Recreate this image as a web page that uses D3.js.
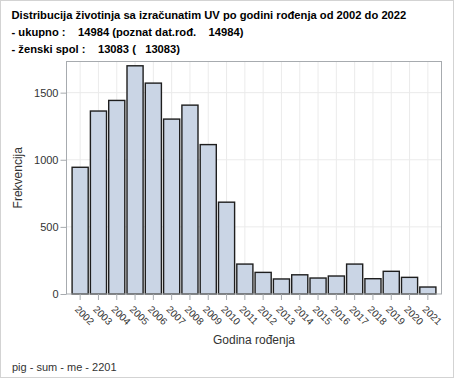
<!DOCTYPE html>
<html>
<head>
<meta charset="utf-8">
<script src="https://cdn.jsdelivr.net/npm/d3@7"></script>
<style>
  body { margin: 0; background: #fff; }
  svg { display: block; font-family: Arial, "Liberation Sans", sans-serif; }
  .title { font-weight: bold; font-size: 11.2px; white-space: pre; fill: #000; }
</style>
</head>
<body>
<div id="chart"></div>
<script>
// year of birth categories
var years = ["2002", "2003", "2004", "2005", "2006", "2007", "2008", "2009", "2010", "2011",
             "2012", "2013", "2014", "2015", "2016", "2017", "2018", "2019", "2020", "2021"];
// frequency per year
var counts = [944, 1363, 1442, 1700, 1571, 1303, 1407, 1113, 684, 223,
              161, 112, 143, 119, 134, 223, 114, 169, 124, 52];
var yTicks = [0, 500, 1000, 1500];
var titleLines = [
  "Distribucija životinja sa izračunatim UV po godini rođenja od 2002 do 2022",
  "- ukupno :    14984 (poznat dat.rođ.    14984)",
  "- ženski spol :    13083 (   13083)"
];
var footer = "pig - sum - me - 2201";

var width = 454, height = 378;
var plot = {left: 66.5, right: 441.5, top: 61.5, bottom: 294};

var svg = d3.select("#chart").append("svg")
    .attr("width", width)
    .attr("height", height);

// outer border
svg.append("rect")
    .attr("x", 0.5).attr("y", 0.5)
    .attr("width", width - 1).attr("height", height - 1)
    .attr("fill", "none")
    .attr("stroke", "#d3d3d3");

svg.selectAll(".title")
    .data(titleLines)
    .enter().append("text")
    .attr("class", "title")
    .attr("x", 11.5)
    .attr("y", function(d, i) { return 18.5 + i * 17; })
    .text(function(d) { return d; });

var x = d3.scaleBand()
    .domain(years)
    .range([plot.left + 4.5, plot.right - 4.5])
    .paddingInner(0.12)
    .paddingOuter(0.06);

var y = d3.scaleLinear()
    .domain([0, 1732])
    .range([plot.bottom, plot.top]);

// grid lines
svg.append("g")
    .selectAll("line")
    .data(years)
    .enter().append("line")
    .attr("x1", function(d) { return x(d) + x.bandwidth() / 2; })
    .attr("x2", function(d) { return x(d) + x.bandwidth() / 2; })
    .attr("y1", plot.top)
    .attr("y2", plot.bottom)
    .attr("stroke", "#ebebeb");

svg.append("g")
    .selectAll("line")
    .data(yTicks.slice(1))
    .enter().append("line")
    .attr("x1", plot.left)
    .attr("x2", plot.right)
    .attr("y1", function(d) { return y(d); })
    .attr("y2", function(d) { return y(d); })
    .attr("stroke", "#ebebeb");

// bars
svg.append("g")
    .selectAll("rect")
    .data(counts)
    .enter().append("rect")
    .attr("x", function(d, i) { return x(years[i]); })
    .attr("y", function(d) { return y(d); })
    .attr("width", x.bandwidth())
    .attr("height", function(d) { return y(0) - y(d); })
    .attr("fill", "#cad5e5")
    .attr("stroke", "#1e1e1e")
    .attr("stroke-width", 1.4);

// plot frame
svg.append("rect")
    .attr("x", plot.left).attr("y", plot.top)
    .attr("width", plot.right - plot.left)
    .attr("height", plot.bottom - plot.top)
    .attr("fill", "none")
    .attr("stroke", "#a7abaf");

// y axis
var yAxis = svg.append("g")
    .attr("transform", "translate(" + plot.left + ",0)")
    .call(d3.axisLeft(y).tickValues(yTicks).tickFormat(d3.format("d")).tickSize(6).tickPadding(2));
yAxis.select(".domain").remove();
yAxis.selectAll("line").attr("stroke", "#a7abaf");
yAxis.selectAll("text")
    .attr("fill", "#333")
    .style("font-size", "11px")
    .style("font-family", "Arial, 'Liberation Sans', sans-serif");

// x axis
var xAxis = svg.append("g")
    .attr("transform", "translate(0," + plot.bottom + ")")
    .call(d3.axisBottom(x).tickSize(6));
xAxis.select(".domain").remove();
xAxis.selectAll("line").attr("stroke", "#a7abaf");
xAxis.selectAll("text")
    .attr("fill", "#333")
    .style("font-size", "10px")
    .style("font-family", "Arial, 'Liberation Sans', sans-serif")
    .attr("text-anchor", "start")
    .attr("dy", null)
    .attr("y", 0)
    .attr("transform", "translate(-6,16) rotate(45)");

// axis titles
svg.append("text")
    .attr("x", (plot.left + plot.right) / 2)
    .attr("y", 344)
    .attr("text-anchor", "middle")
    .attr("fill", "#333")
    .style("font-size", "12px")
    .text("Godina rođenja");

svg.append("text")
    .attr("transform", "translate(22," + ((plot.top + plot.bottom) / 2) + ") rotate(-90)")
    .attr("text-anchor", "middle")
    .attr("fill", "#333")
    .style("font-size", "12px")
    .text("Frekvencija");

svg.append("text")
    .attr("x", 12)
    .attr("y", 371)
    .attr("fill", "#333")
    .style("font-size", "11px")
    .text(footer);
</script>
</body>
</html>
